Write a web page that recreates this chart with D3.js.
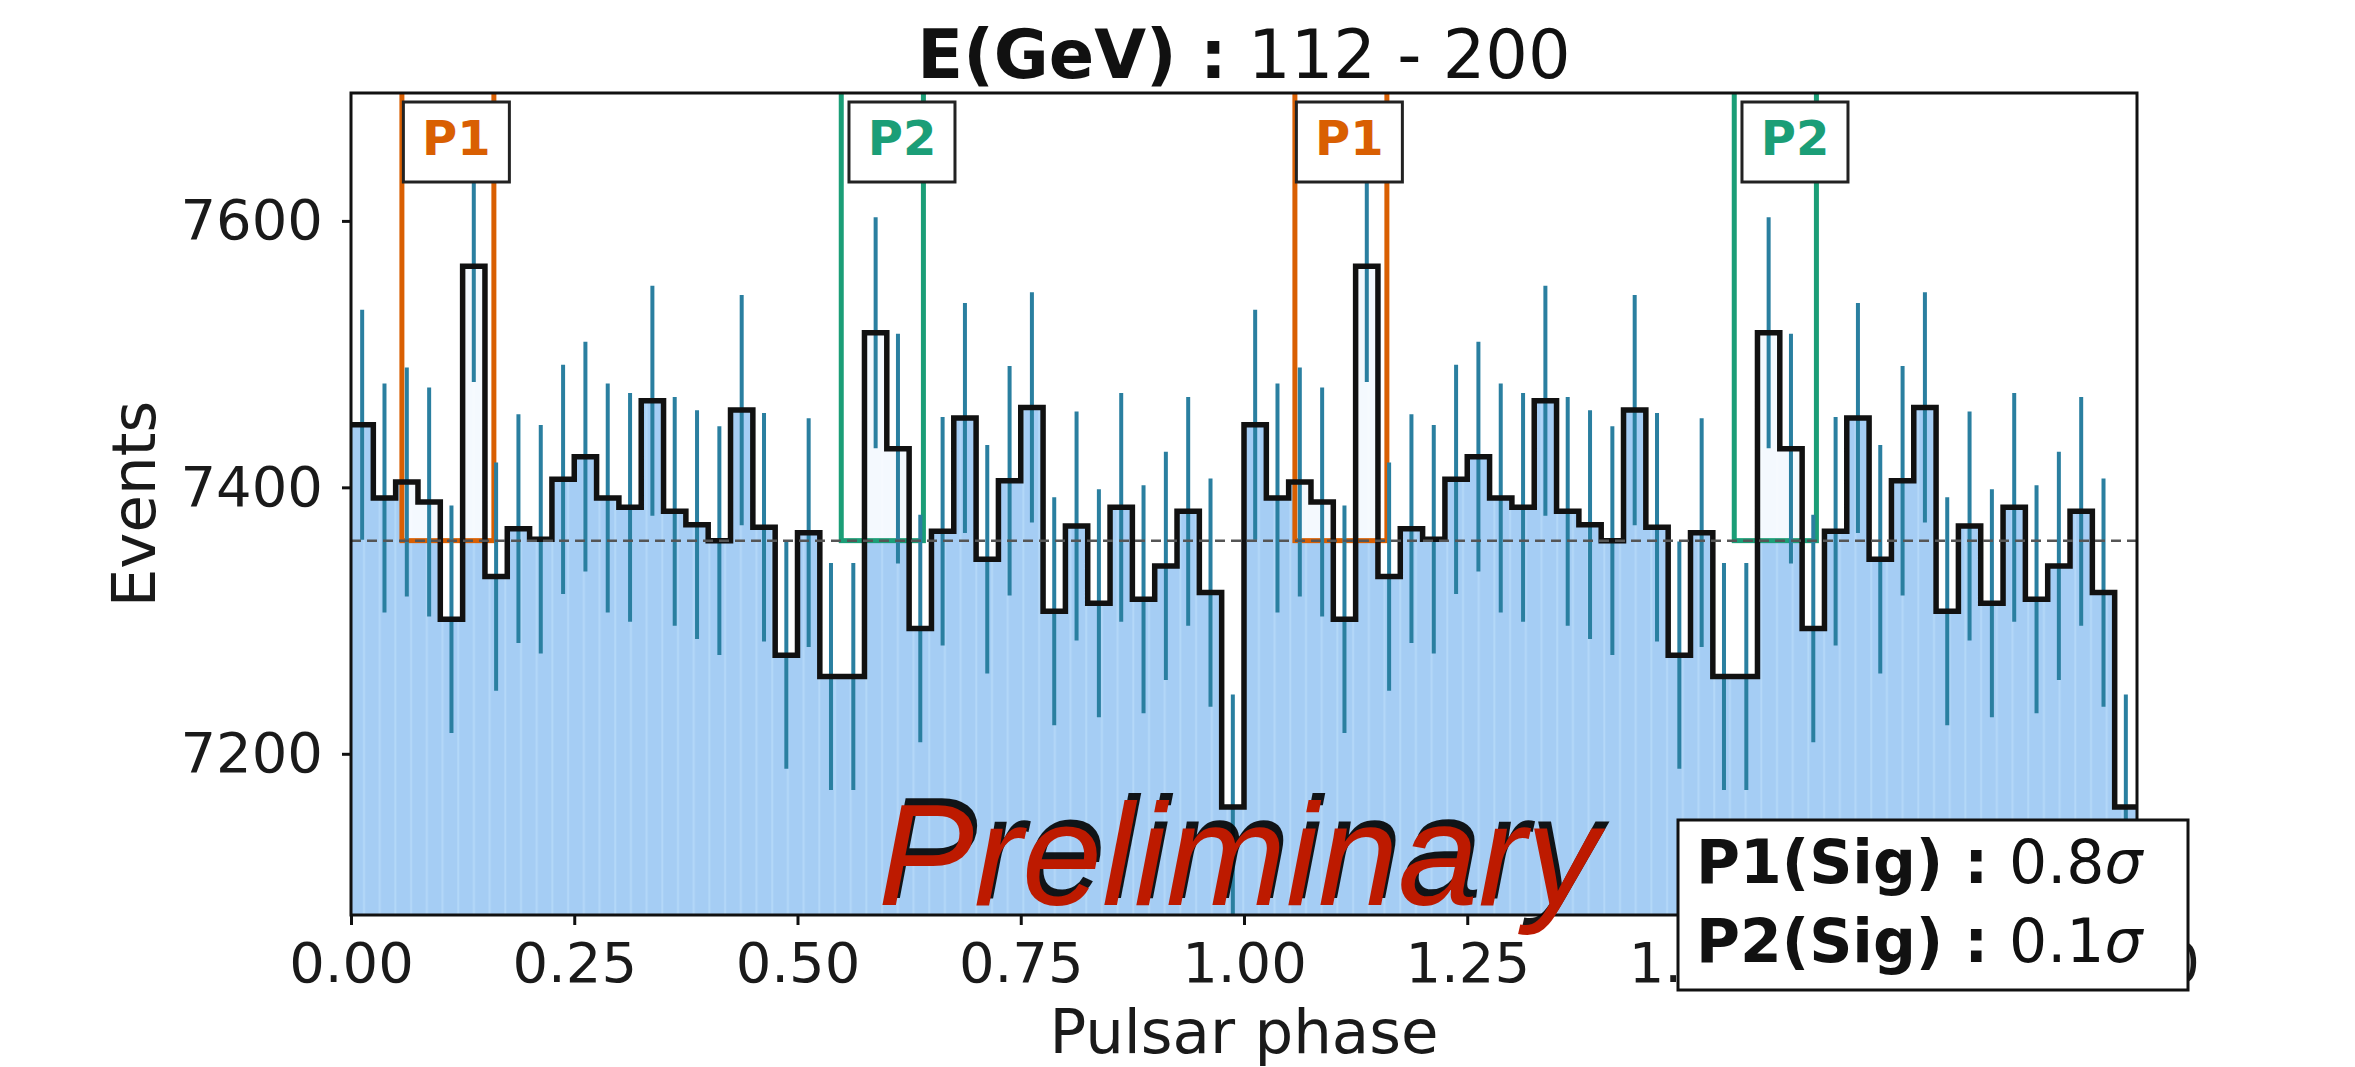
<!DOCTYPE html>
<html lang="en">
<head>
    <meta charset="UTF-8">
    <title>E(GeV): 112 - 200</title>
    <script src="https://cdnjs.cloudflare.com/ajax/libs/d3/7.8.2/d3.min.js"></script>
    <style>
        body {
            margin: 0;
            padding: 0;
            background-color: #ffffff;
        }
        svg {
            display: block;
            background-color: #ffffff;
            font-family: "DejaVu Sans", sans-serif;
        }
        .axis text {
            fill: #1a1a1a;
        }
    </style>
</head>
<body>
    <svg width="2355" height="1067"></svg>

    <script>
        // counts per phase bin (one rotation, 40 bins), drawn twice
        const counts = [
            7447, 7392, 7404, 7389, 7301, 7566, 7333, 7369, 7361, 7406,
            7423, 7392, 7385, 7465, 7382, 7372, 7360, 7458, 7370, 7274,
            7366, 7258, 7258, 7516, 7429, 7294, 7367, 7452, 7346, 7405,
            7460, 7307, 7371, 7313, 7385, 7316, 7341, 7382, 7321, 7160
        ];
        const errors = [
            86.3, 86.0, 86.0, 86.0, 85.4, 87.0, 85.6, 85.8, 85.8, 86.1,
            86.2, 86.0, 85.9, 86.4, 85.9, 85.9, 85.8, 86.4, 85.8, 85.3,
            85.8, 85.2, 85.2, 86.7, 86.2, 85.4, 85.8, 86.3, 85.7, 86.1,
            86.4, 85.5, 85.9, 85.5, 85.9, 85.5, 85.7, 85.9, 85.6, 84.6
        ];
        const cycles = 2;
        const offPulseLevel = 7360;

        const peakNames = ["P1", "P2"];
        const peakStart = [0.057, 0.549];
        const peakEnd = [0.160, 0.641];
        const peakSig = ["0.8", "0.1"];
        const peakColors = ["#d95f02", "#1b9e77"];

        const xTicks = [0, 0.25, 0.5, 0.75, 1.0, 1.25, 1.5, 1.75, 2.0];
        const yTicks = [7200, 7400, 7600];

        const svg = d3.select("svg");
        const margin = { left: 351, right: 2137, top: 93, bottom: 915 };

        const x = d3.scaleLinear().domain([0, cycles]).range([margin.left, margin.right]);
        const y = d3.scaleLinear().domain([7079, 7696]).range([margin.bottom, margin.top]);

        const binW = 1 / counts.length;
        const bins = [];
        for (let c = 0; c < cycles; c++) {
            counts.forEach((v, i) => bins.push({ x0: c + i * binW, v: v, e: errors[i] }));
        }
        const stepPts = bins.map(d => [d.x0, d.v]);
        stepPts.push([cycles, bins[bins.length - 1].v]);

        const defs = svg.append("defs");
        defs.append("clipPath").attr("id", "plotClip")
            .append("rect")
            .attr("x", margin.left).attr("y", margin.top)
            .attr("width", margin.right - margin.left)
            .attr("height", margin.bottom - margin.top);

        const pat = defs.append("pattern")
            .attr("id", "stripes")
            .attr("patternUnits", "userSpaceOnUse")
            .attr("x", margin.left)
            .attr("width", 15.7).attr("height", 20);
        pat.append("rect").attr("width", 15.7).attr("height", 20).attr("fill", "#a5cdf4");
        pat.append("rect").attr("x", 12).attr("width", 2).attr("height", 20).attr("fill", "#b4d8f8");

        const plot = svg.append("g").attr("clip-path", "url(#plotClip)");

        // filled histogram
        const area = d3.area()
            .curve(d3.curveStepAfter)
            .x(d => x(d[0]))
            .y0(y.range()[0])
            .y1(d => y(d[1]));
        plot.append("path")
            .datum(stepPts)
            .attr("d", area)
            .attr("fill", "url(#stripes)");

        // on-pulse windows
        const windows = [];
        for (let c = 0; c < cycles; c++) {
            peakNames.forEach((n, i) => windows.push({ name: n, a: c + peakStart[i], b: c + peakEnd[i], color: peakColors[i], c: c }));
        }
        plot.selectAll("rect.win")
            .data(windows)
            .enter().append("rect")
            .attr("class", "win")
            .attr("x", d => x(d.a))
            .attr("width", d => x(d.b) - x(d.a))
            .attr("y", y.range()[1] - 5)
            .attr("height", d => y(offPulseLevel) - y.range()[1] + 5)
            .attr("fill", "#ffffff")
            .attr("fill-opacity", 0.88)
            .attr("stroke", d => d.color)
            .attr("stroke-width", 5);

        // error bars
        plot.selectAll("line.err")
            .data(bins)
            .enter().append("line")
            .attr("class", "err")
            .attr("x1", d => x(d.x0 + binW / 2))
            .attr("x2", d => x(d.x0 + binW / 2))
            .attr("y1", d => y(d.v - d.e))
            .attr("y2", d => y(d.v + d.e))
            .attr("stroke", "#2a7fa0")
            .attr("stroke-width", 4);

        // step outline
        const step = d3.line()
            .curve(d3.curveStepAfter)
            .x(d => x(d[0]))
            .y(d => y(d[1]));
        plot.append("path")
            .datum(stepPts)
            .attr("d", step)
            .attr("fill", "none")
            .attr("stroke", "#111")
            .attr("stroke-width", 5.5);

        // off-pulse level
        plot.append("line")
            .attr("x1", x(0)).attr("x2", x(cycles))
            .attr("y1", y(offPulseLevel)).attr("y2", y(offPulseLevel))
            .attr("stroke", "#555")
            .attr("stroke-width", 2.5)
            .attr("stroke-dasharray", "10,6");

        // axes
        const xAxis = svg.append("g")
            .attr("class", "axis")
            .attr("transform", `translate(0,${margin.bottom})`)
            .call(d3.axisBottom(x).tickValues(xTicks).tickFormat(d3.format(".2f")).tickSize(10).tickPadding(17));
        const yAxis = svg.append("g")
            .attr("class", "axis")
            .attr("transform", `translate(${margin.left},0)`)
            .call(d3.axisLeft(y).tickValues(yTicks).tickFormat(d3.format("d")).tickSize(9).tickPadding(19));
        [xAxis, yAxis].forEach(a => {
            a.selectAll("text").attr("font-size", 56).attr("font-family", "DejaVu Sans");
            a.selectAll("line").attr("stroke", "#111").attr("stroke-width", 3);
            a.select(".domain").remove();
        });

        svg.append("rect")
            .attr("x", margin.left).attr("y", margin.top)
            .attr("width", margin.right - margin.left)
            .attr("height", margin.bottom - margin.top)
            .attr("fill", "none")
            .attr("stroke", "#111")
            .attr("stroke-width", 3);

        svg.append("text")
            .attr("x", (margin.left + margin.right) / 2)
            .attr("y", 1053)
            .attr("text-anchor", "middle")
            .attr("font-size", 61)
            .attr("fill", "#1a1a1a")
            .text("Pulsar phase");

        svg.append("text")
            .attr("transform", `translate(155,${(margin.top + margin.bottom) / 2}) rotate(-90)`)
            .attr("text-anchor", "middle")
            .attr("font-size", 61)
            .attr("fill", "#1a1a1a")
            .text("Events");

        const title = svg.append("text")
            .attr("x", (margin.left + margin.right) / 2)
            .attr("y", 78)
            .attr("text-anchor", "middle")
            .attr("font-size", 67)
            .attr("fill", "#111");
        title.append("tspan").attr("font-weight", "bold").text("E(GeV) :");
        title.append("tspan").text(" 112 - 200");

        // window labels
        const labelAt = [0.118, 0.617];
        const labels = [];
        for (let c = 0; c < cycles; c++) {
            peakNames.forEach((n, i) => labels.push({ name: n, px: c + labelAt[i], color: peakColors[i] }));
        }
        const lab = svg.selectAll("g.lab")
            .data(labels)
            .enter().append("g")
            .attr("class", "lab")
            .attr("transform", d => `translate(${x(d.px)},0)`);
        lab.append("rect")
            .attr("x", -53).attr("y", 102)
            .attr("width", 106).attr("height", 80)
            .attr("fill", "#ffffff")
            .attr("stroke", "#222")
            .attr("stroke-width", 3);
        lab.append("text")
            .attr("y", 155)
            .attr("text-anchor", "middle")
            .attr("font-size", 48)
            .attr("font-weight", "bold")
            .attr("fill", d => d.color)
            .text(d => d.name);

        // watermark
        const prelim = svg.append("g")
            .attr("font-family", "'Liberation Sans', Arial, sans-serif")
            .attr("font-style", "italic")
            .attr("font-size", 144);
        prelim.append("text")
            .attr("x", 882).attr("y", 898)
            .attr("fill", "#000")
            .attr("opacity", 0.9)
            .text("Preliminary");
        prelim.append("text")
            .attr("x", 878).attr("y", 905)
            .attr("fill", "#bd1a00")
            .text("Preliminary");

        // significance box
        const sb = svg.append("g");
        sb.append("rect")
            .attr("x", 1678).attr("y", 820)
            .attr("width", 510).attr("height", 170)
            .attr("fill", "#ffffff")
            .attr("stroke", "#111")
            .attr("stroke-width", 3);
        peakNames.forEach((n, i) => {
            const t = sb.append("text")
                .attr("x", 1696)
                .attr("y", 883 + i * 79)
                .attr("font-size", 60)
                .attr("fill", "#111");
            t.append("tspan").attr("font-weight", "bold").text(`${n}(Sig) : `);
            t.append("tspan").text(peakSig[i]);
            t.append("tspan").attr("font-style", "italic").text("σ");
        });
    </script>
</body>
</html>
